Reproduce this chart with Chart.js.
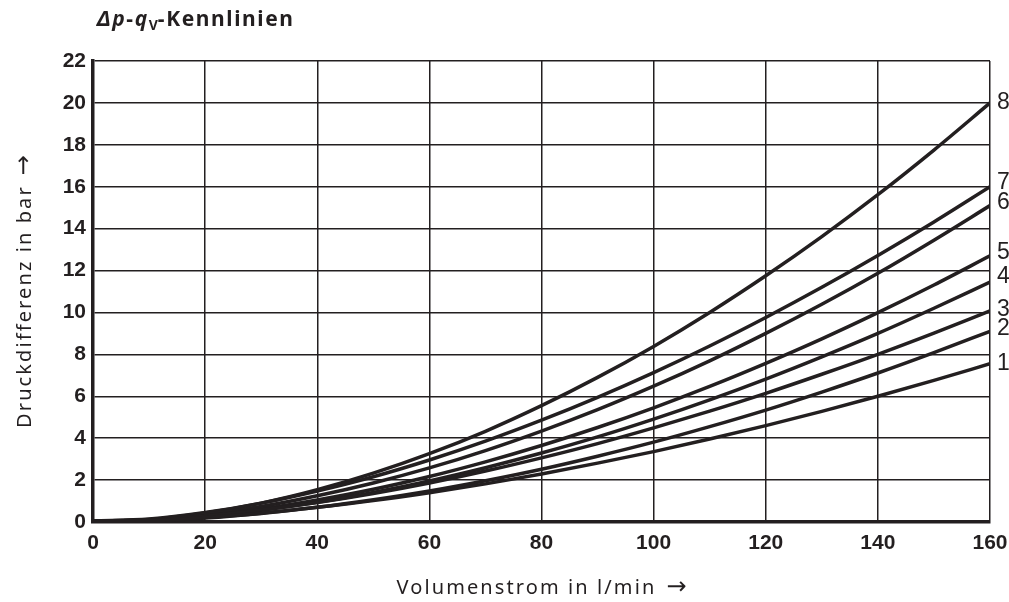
<!DOCTYPE html>
<html><head><meta charset="utf-8">
<script src="https://cdn.jsdelivr.net/npm/chart.js@4.4.1/dist/chart.umd.min.js"></script>
<style>
html,body{margin:0;padding:0;background:#fff;}
#wrap{position:relative;width:1009px;height:602px;}
#title{position:absolute;left:97px;top:8px;font-family:"Noto Sans",sans-serif;font-weight:700;font-size:21px;line-height:1;letter-spacing:1.6px;color:#231f20;white-space:nowrap;}
#title sub{font-size:14px;vertical-align:-4px;letter-spacing:0;}
</style></head><body>
<div id="wrap"><canvas id="c" width="1009" height="602"></canvas>
<div id="title"><i>Δp</i>-<i>q</i><sub>V</sub>-Kennlinien</div></div>
<script>
// Volumenstrom (l/min)
const flowRates = [0,10,20,30,40,50,60,70,80,90,100,110,120,130,140,150,160];
// Druckdifferenz (bar) per Kennlinie
const curve1 = [0.05,0.06,0.21,0.42,0.70,1.02,1.40,1.82,2.29,2.81,3.36,3.96,4.60,5.28,6.00,6.76,7.55];
const curve2 = [0.05,0.05,0.19,0.41,0.70,1.06,1.48,1.97,2.52,3.14,3.81,4.55,5.34,6.20,7.11,8.08,9.10];
const curve3 = [0.05,0.09,0.28,0.57,0.93,1.36,1.86,2.43,3.06,3.74,4.49,5.29,6.14,7.05,8.00,9.01,10.07];
const curve4 = [0.05,0.08,0.27,0.56,0.94,1.41,1.96,2.59,3.29,4.06,4.91,5.83,6.82,7.88,9.00,10.20,11.45];
const curve5 = [0.05,0.09,0.30,0.62,1.05,1.56,2.17,2.87,3.65,4.51,5.45,6.47,7.57,8.74,9.99,11.31,12.70];
const curve6 = [0.05,0.10,0.36,0.74,1.25,1.86,2.58,3.41,4.34,5.36,6.48,7.69,9.00,10.39,11.87,13.45,15.10];
const curve7 = [0.05,0.14,0.45,0.90,1.48,2.16,2.96,3.86,4.86,5.95,7.13,8.40,9.76,11.20,12.72,14.32,16.00];
const curve8 = [0.05,0.12,0.43,0.90,1.54,2.33,3.26,4.33,5.55,6.90,8.38,10.00,11.75,13.62,15.62,17.75,20.00];
const curveLabels = ['1','2','3','4','5','6','7','8'];
const xTickValues = [0,20,40,60,80,100,120,140,160];
const yTickValues = [0,2,4,6,8,10,12,14,16,18,20,22];
const xTitleText = 'Volumenstrom in l/min';
const yTitleText = 'Druckdifferenz in bar';

const INK = '#231f20';
const allCurves = [curve1,curve2,curve3,curve4,curve5,curve6,curve7,curve8];
const labelNudge = [0,-3,-1,-5,-3,-3,-4,0];

const endLabels = {
  id:'endLabels',
  afterDatasetsDraw(chart){
    const ctx = chart.ctx;
    ctx.save();
    ctx.font = '23px "Liberation Sans", Arial, sans-serif';
    ctx.fillStyle = INK;
    ctx.textBaseline = 'middle';
    ctx.textAlign = 'left';
    chart.data.datasets.forEach((ds,i)=>{
      const meta = chart.getDatasetMeta(i);
      const pt = meta.data[meta.data.length-1];
      ctx.fillText(ds.label, chart.chartArea.right + 7, pt.y + labelNudge[i]);
    });
    ctx.restore();
  }
};

const axisTitles = {
  id:'axisTitles',
  afterDraw(chart){
    const ctx = chart.ctx, ca = chart.chartArea;
    const textFont = '20px "Noto Sans", sans-serif';
    const arrowFont = '24px "DejaVu Sans", sans-serif';
    function drawTitle(text, cx, cy, rot){
      ctx.save();
      ctx.translate(cx, cy);
      ctx.rotate(rot);
      ctx.fillStyle = INK;
      ctx.textBaseline = 'alphabetic';
      ctx.textAlign = 'left';
      ctx.font = textFont; ctx.letterSpacing = '2.1px';
      const w1 = ctx.measureText(text).width;
      ctx.font = arrowFont; ctx.letterSpacing = '0px';
      const wa = ctx.measureText('→').width;
      const gap = 10;
      const x0 = -(w1 + gap + wa) / 2;
      ctx.font = textFont; ctx.letterSpacing = '2.1px';
      ctx.fillText(text, x0, 0);
      ctx.font = arrowFont; ctx.letterSpacing = '0px';
      ctx.fillText('→', x0 + w1 + gap, 0);
      ctx.restore();
    }
    drawTitle(xTitleText, (ca.left + ca.right) / 2, 594, 0);
    drawTitle(yTitleText, 31, (ca.top + ca.bottom) / 2, -Math.PI / 2);
  }
};

const datasets = allCurves.map((arr,i)=>({
  label: curveLabels[i],
  data: flowRates.map((x,j)=>({x:x, y:arr[j]})),
  borderColor: INK,
  borderWidth: 3.5,
  pointRadius: 0,
  fill: false,
  cubicInterpolationMode: 'monotone'
}));

const tickFont = {family:'"Liberation Sans", Arial, sans-serif', weight:'bold', size:21};

new Chart(document.getElementById('c'), {
  type:'line',
  data:{datasets},
  plugins:[endLabels, axisTitles],
  options:{
    responsive:false,
    animation:false,
    devicePixelRatio:1,
    layout:{padding:{top:61,right:19,left:0,bottom:0}},
    plugins:{legend:{display:false},tooltip:{enabled:false}},
    scales:{
      x:{
        type:'linear', min:0, max:160,
        afterBuildTicks:s=>{ s.ticks = xTickValues.map(v=>({value:v})); },
        afterFit:s=>{ s.height = 80; s.paddingLeft = 0; s.paddingRight = 0; },
        grid:{color:INK, lineWidth:1.5, drawTicks:false},
        border:{color:INK, width:3.5},
        ticks:{padding:9, color:INK, autoSkip:false, maxRotation:0, font:tickFont},
        title:{display:false}
      },
      y:{
        type:'linear', min:0, max:22,
        afterBuildTicks:s=>{ s.ticks = yTickValues.map(v=>({value:v})); },
        afterFit:s=>{ s.width = 93; s.paddingTop = 0; s.paddingBottom = 0; },
        grid:{color:INK, lineWidth:1.5, drawTicks:false},
        border:{color:INK, width:3.5},
        ticks:{padding:7, color:INK, autoSkip:false, font:tickFont},
        title:{display:false}
      }
    }
  }
});
</script>
</body></html>
